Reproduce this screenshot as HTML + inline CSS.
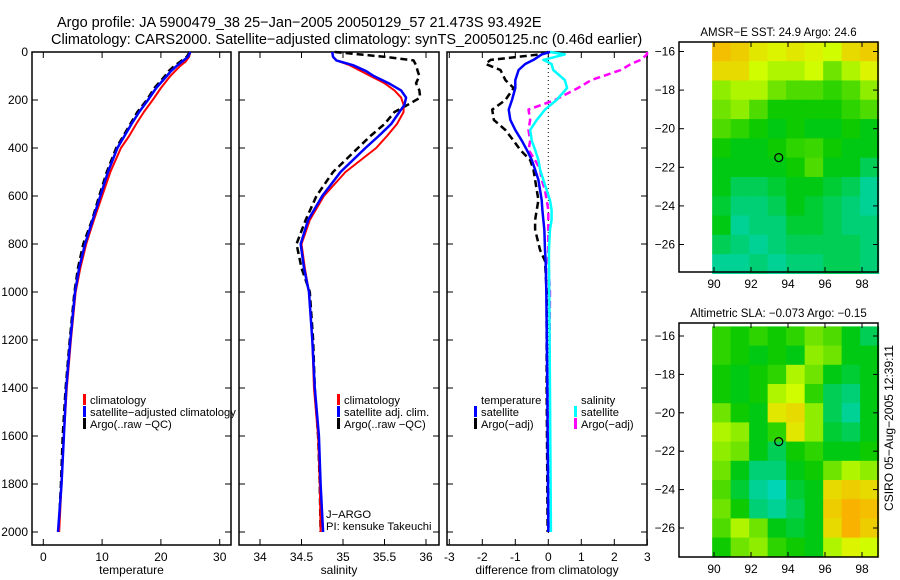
<!DOCTYPE html>
<html><head><meta charset="utf-8"><style>
html,body{margin:0;padding:0;background:#fff;}
svg{display:block;font-family:"Liberation Sans",sans-serif;}
</style></head><body>
<svg id="c" width="900" height="580" viewBox="0 0 900 580">
<text x="57" y="27" font-size="14.5">Argo profile: JA 5900479_38 25−Jan−2005 20050129_57 21.473S 93.492E</text>
<text x="51" y="44" font-size="14.5">Climatology: CARS2000. Satellite−adjusted climatology: synTS_20050125.nc (0.46d earlier)</text>
<text transform="translate(893,428) rotate(-90)" text-anchor="middle" font-size="12">CSIRO 05−Aug−2005 12:39:11</text>
</svg>
<script>
// ---- data ----
const depths = [0,20,40,60,80,100,150,200,250,300,350,400,500,600,700,800,900,1000,1200,1400,1600,1800,2000];
const tempClim = [25.0,24.8,24.2,23.2,22.4,21.6,20.0,18.6,17.1,15.8,14.6,13.2,11.4,10.0,8.6,7.3,6.3,5.5,4.7,4.0,3.5,3.1,2.7];
const tempSat  = [25.0,24.6,23.6,22.6,21.7,21.0,19.2,17.8,16.3,15.0,13.8,12.6,11.0,9.7,8.4,7.1,6.1,5.4,4.6,3.9,3.5,3.1,2.5];
const tempArgo = [24.9,24.4,23.3,22.2,21.3,20.7,18.9,17.6,16.0,14.8,13.6,12.4,10.8,9.5,8.3,6.8,5.9,5.3,4.5,3.8,3.3,3.0,2.6];
const salDepths = [0,20,35,55,80,100,130,160,190,220,250,300,350,400,500,600,700,800,900,1000,1200,1400,1600,1800,2000];
const salClim = [34.87,34.88,34.92,35.08,35.22,35.33,35.5,35.62,35.7,35.73,35.73,35.65,35.53,35.4,35.03,34.77,34.6,34.5,34.54,34.59,34.63,34.65,34.7,34.72,34.73];
const salSat  = [34.87,34.88,34.92,35.12,35.28,35.37,35.55,35.7,35.76,35.74,35.68,35.58,35.43,35.27,34.97,34.75,34.58,34.49,34.53,34.59,34.63,34.66,34.71,34.73,34.76];
const salArgo = [34.9,35.5,35.85,35.88,35.9,35.92,35.88,35.92,35.93,35.78,35.62,35.5,35.33,35.18,34.88,34.68,34.55,34.44,34.5,34.6,34.64,34.66,34.7,34.72,34.73];
const diffDepths = [0,10,33,50,75,117,150,200,240,283,325,370,408,450,490,533,575,617,658,700,740,825,870,1000,1400,2000];
const dTempSat  = [0.05,-0.2,-0.45,-0.7,-0.9,-1.0,-1.0,-1.1,-1.2,-1.15,-1.0,-0.8,-0.65,-0.5,-0.4,-0.3,-0.25,-0.2,-0.18,-0.15,-0.12,-0.1,-0.08,-0.06,-0.03,0.0];
const dTempArgo = [0.0,-0.25,-1.75,-1.9,-1.45,-1.3,-1.05,-1.3,-1.7,-1.65,-1.3,-1.05,-0.85,-0.55,-0.45,-0.4,-0.35,-0.3,-0.35,-0.4,-0.4,-0.25,-0.1,-0.05,-0.05,-0.02];
const dSalSat   = [0.05,0.5,-0.15,0.1,0.15,0.5,0.57,0.25,-0.1,-0.35,-0.55,-0.5,-0.4,-0.3,-0.25,-0.15,-0.05,0.05,0.1,0.1,0.05,0.02,0.02,0.03,0.05,0.08];
const dSalArgo  = [3.2,3.1,2.8,2.5,2.2,1.3,0.9,0.2,-0.6,-0.55,-0.6,-0.55,-0.6,-0.4,-0.25,-0.2,-0.1,-0.05,0.0,0.0,0.0,0.0,0.0,0.05,0.03,0.05];
const depthTicks = [0,200,400,600,800,1000,1200,1400,1600,1800,2000];
const tempTicks = [0,10,20,30];
const salTicks = [34,34.5,35,35.5,36];
const salTickLabels = ["34","34.5","35","35.5","36"];
const diffTicks = [-3,-2,-1,0,1,2,3];
const lonTicks = [90,92,94,96,98];
const latTicks = [-16,-18,-20,-22,-24,-26];
const sstGrid = [
[0.9,0.85,0.75,0.7,0.75,0.7,0.65,0.8,0.85],
[0.8,0.8,0.65,0.6,0.6,0.65,0.5,0.6,0.7],
[0.55,0.6,0.6,0.5,0.45,0.45,0.4,0.45,0.55],
[0.5,0.55,0.45,0.35,0.35,0.35,0.35,0.4,0.45],
[0.45,0.4,0.35,0.3,0.35,0.3,0.3,0.35,0.3],
[0.35,0.3,0.3,0.35,0.4,0.42,0.35,0.3,0.3],
[0.3,0.3,0.3,0.3,0.35,0.45,0.3,0.3,0.2],
[0.3,0.2,0.2,0.25,0.3,0.3,0.25,0.2,0.1],
[0.25,0.15,0.15,0.2,0.3,0.25,0.2,0.15,0.1],
[0.3,0.1,0.15,0.15,0.25,0.25,0.2,0.15,0.15],
[0.2,0.15,0.1,0.15,0.2,0.2,0.2,0.2,0.15],
[0.1,0.1,0.15,0.1,0.15,0.15,0.2,0.2,0.15]];
const slaGrid = [
[0.4,0.35,0.4,0.35,0.4,0.5,0.45,0.3,0.2],
[0.4,0.35,0.3,0.35,0.3,0.55,0.5,0.3,0.3],
[0.35,0.3,0.35,0.4,0.6,0.5,0.3,0.25,0.3],
[0.35,0.3,0.35,0.6,0.65,0.4,0.2,0.15,0.3],
[0.5,0.35,0.3,0.75,0.8,0.55,0.2,0.1,0.3],
[0.6,0.55,0.3,0.4,0.75,0.55,0.25,0.2,0.3],
[0.55,0.5,0.3,0.2,0.35,0.4,0.3,0.3,0.35],
[0.5,0.3,0.15,0.15,0.3,0.35,0.5,0.6,0.55],
[0.45,0.25,0.1,0.05,0.25,0.3,0.8,0.85,0.8],
[0.5,0.35,0.15,0.1,0.2,0.3,0.85,0.95,0.9],
[0.45,0.6,0.5,0.3,0.25,0.3,0.8,0.95,0.85],
[0.35,0.5,0.55,0.4,0.35,0.3,0.6,0.7,0.65]];
const argoLon = 93.5, argoLat = -21.5;

// ---- drawing ----
const NS = "http://www.w3.org/2000/svg";
const svg = document.getElementById('c');
function mk(tag, attrs, parent){const e=document.createElementNS(NS,tag);for(const k in attrs)e.setAttribute(k,attrs[k]);(parent||svg).appendChild(e);return e;}
function yD(d){return 52 + d*0.24;}
const bottom = 545, top0 = 52;

function panel(name, x0, x1, xScale, ticks, labels, xlabel, showY){
  const g = mk('g',{});
  
  
  const r = mk('rect',{x:x0,y:top0,width:x1-x0,height:bottom-top0,fill:'none',stroke:'#000','stroke-width':1.5},g);
  
  
  ticks.forEach((t,i)=>{
    const x = xScale(t);
    mk('line',{x1:x,x2:x,y1:bottom,y2:bottom-6,stroke:'#000'},g);
    mk('line',{x1:x,x2:x,y1:top0,y2:top0+6,stroke:'#000'},g);
    const tl = mk('text',{x:x,y:561,'font-size':12,'text-anchor':'middle'},g);
    tl.textContent = labels[i];
    
    
  });
  depthTicks.forEach(d=>{
    const y = yD(d);
    mk('line',{x1:x0,x2:x0+6,y1:y,y2:y,stroke:'#000'},g);
    mk('line',{x1:x1,x2:x1-6,y1:y,y2:y,stroke:'#000'},g);
    if(showY){
      const tl = mk('text',{x:28,y:y+4,'font-size':12,'text-anchor':'end'},g);
      tl.textContent = d;
      
      
    }
  });
  const xl = mk('text',{x:(x0+x1)/2,y:574,'font-size':12,'text-anchor':'middle'},g);
  xl.textContent = xlabel;
  
  
  return g;
}
function line(name, ds, vs, xs, color, dash, w, x0, x1){
  const pts = ds.map((d,i)=>[Math.max(x0,Math.min(x1,xs(vs[i]))), yD(d)]);
  const p = mk('polyline',{points:pts.map(p=>p.join(',')).join(' '),fill:'none',stroke:color,'stroke-width':w,'stroke-dasharray':dash||'none','stroke-linejoin':'round'});
  
  
}
function legendEntry(x, y, color, label, name){
  if(color){ mk('rect',{x:x-7,y:y-10,width:3,height:11,fill:color}); }
  const t = mk('text',{x:x,y:y,'font-size':11.2});
  t.textContent = label;
  
  
}

// temperature panel
const xT = v => 43.3 + v*5.88;
panel('temperature-panel', 32, 231, xT, tempTicks, tempTicks.map(String), 'temperature', true);
line('temp-argo-line', depths, tempArgo, xT, '#000', '7,4', 2.5, 32, 231);
line('temp-climatology-line', depths, tempClim, xT, '#f00', null, 2, 32, 231);
line('temp-satellite-line', depths, tempSat, xT, '#00f', null, 2.5, 32, 231);
legendEntry(90, 404, '#f00', 'climatology', 'legend-climatology');
legendEntry(90, 416, '#00f', 'satellite−adjusted climatology', 'legend-satellite-adjusted');
legendEntry(90, 428, '#000', 'Argo(..raw −QC)', 'legend-argo');

// salinity panel
const xS = v => 260 + (v-34)*83;
panel('salinity-panel', 239, 439, xS, salTicks, salTickLabels, 'salinity', false);
line('sal-argo-line', salDepths, salArgo, xS, '#000', '7,4', 2.5, 239, 439);
line('sal-climatology-line', salDepths, salClim, xS, '#f00', null, 2, 239, 439);
line('sal-satellite-line', salDepths, salSat, xS, '#00f', null, 2.5, 239, 439);
legendEntry(344, 404, '#f00', 'climatology', 'legend-sal-climatology');
legendEntry(344, 416, '#00f', 'satellite adj. clim.', 'legend-sal-satellite');
legendEntry(344, 428, '#000', 'Argo(..raw −QC)', 'legend-sal-argo');
legendEntry(326, 518, null, 'J−ARGO', 'float-owner');
legendEntry(326, 530, null, 'PI: kensuke Takeuchi', 'float-pi');

// difference panel
const xDf = v => 548.3 + v*33;
panel('difference-panel', 447, 647, xDf, diffTicks, diffTicks.map(String), 'difference from climatology', false);
mk('line',{x1:xDf(0),x2:xDf(0),y1:top0,y2:bottom-10,stroke:'#000','stroke-dasharray':'1,3'});
line('diff-temp-argo-line', diffDepths, dTempArgo, xDf, '#000', '7,4', 2.5, 447, 647);
line('diff-sal-argo-line', diffDepths, dSalArgo, xDf, '#f0f', '7,4', 2.5, 447, 647);
line('diff-sal-satellite-line', diffDepths, dSalSat, xDf, '#0ff', null, 2.5, 447, 647);
line('diff-temp-satellite-line', diffDepths, dTempSat, xDf, '#00f', null, 2.5, 447, 647);
legendEntry(481, 404, null, 'temperature', 'legend-temperature-header');
legendEntry(481, 416, '#00f', 'satellite', 'legend-temp-satellite');
legendEntry(481, 428, '#000', 'Argo(−adj)', 'legend-temp-argo');
legendEntry(581, 404, null, 'salinity', 'legend-salinity-header');
legendEntry(581, 416, '#0ff', 'satellite', 'legend-sal-satellite-diff');
legendEntry(581, 428, '#f0f', 'Argo(−adj)', 'legend-sal-argo-diff');

// maps
function cmap(v){
  const stops=[[0,[0,215,215]],[0.33,[0,200,0]],[0.66,[215,255,0]],[1,[255,165,0]]];
  for(let i=1;i<stops.length;i++){ if(v<=stops[i][0]){const a=stops[i-1],b=stops[i];const t=(v-a[0])/(b[0]-a[0]);
    return 'rgb('+a[1].map((c,k)=>Math.round(c+(b[1][k]-c)*t)).join(',')+')';}}
  return 'rgb(255,165,0)';
}
function map(name, title, grid, bx0, bx1, by0, by1, lat16y, latPx){
  const g = mk('g',{});
  
  
  const xL = lon => 714 + (lon-90)*18.5;
  const yL = lat => lat16y + (-16-lat)*latPx;
  grid.forEach((row,r)=>row.forEach((v,c)=>{
    const x = xL(89.9 + c), y = yL(-15.5 - r);
    const cell = mk('rect',{x:x,y:y,width:xL(90.9+c)-x+0.5,height:latPx+0.5,fill:cmap(v)},g);
    
    
  }));
  mk('rect',{x:bx0,y:by0,width:bx1-bx0,height:by1-by0,fill:'none',stroke:'#000','stroke-width':1.5},g);
  lonTicks.forEach(l=>{
    const x=xL(l);
    mk('line',{x1:x,x2:x,y1:by1,y2:by1-5,stroke:'#000'},g);
    mk('line',{x1:x,x2:x,y1:by0,y2:by0+5,stroke:'#000'},g);
    const t=mk('text',{x:x,y:by1+16,'font-size':12,'text-anchor':'middle'},g);
    t.textContent=l;
    
    
  });
  latTicks.forEach(l=>{
    const y=yL(l);
    mk('line',{x1:bx0,x2:bx0+5,y1:y,y2:y,stroke:'#000'},g);
    mk('line',{x1:bx1,x2:bx1-5,y1:y,y2:y,stroke:'#000'},g);
    const t=mk('text',{x:bx0-4,y:y+4,'font-size':12,'text-anchor':'end'},g);
    t.textContent='−'+Math.abs(l);
    
    
  });
  const c = mk('circle',{cx:xL(argoLon),cy:yL(argoLat),r:4,fill:'none',stroke:'#000','stroke-width':1.2},g);
  
  
  const t=mk('text',{x:(bx0+bx1)/2,y:by0-6,'font-size':11.5,'text-anchor':'middle'},g);
  t.textContent=title;
  
  
}
map('sst-map','AMSR−E SST: 24.9 Argo: 24.6', sstGrid, 679, 878, 42, 272, 51.5, 19.3);
map('sla-map','Altimetric SLA: −0.073 Argo: −0.15', slaGrid, 679, 878, 323, 557, 336, 19.2);
</script>
</body></html>
